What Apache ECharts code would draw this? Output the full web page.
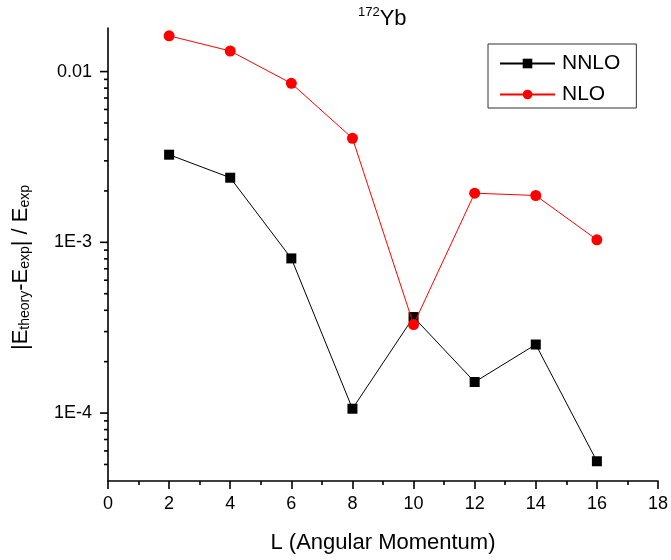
<!DOCTYPE html>
<html>
<head>
<meta charset="utf-8">
<script src="https://cdn.jsdelivr.net/npm/echarts@6/dist/echarts.min.js"></script>
<style>
html,body{margin:0;padding:0;background:#fff;}
#chart{width:671px;height:560px;}
</style>
</head>
<body>
<div id="chart"></div>
<script>
// ---- data ----
const L = [2, 4, 6, 8, 10, 12, 14, 16];
const nnlo = [3.26e-3, 2.39e-3, 8.05e-4, 1.06e-4, 3.65e-4, 1.52e-4, 2.52e-4, 5.22e-5];
const nlo = [1.62e-2, 1.32e-2, 8.53e-3, 4.07e-3, 3.30e-4, 1.94e-3, 1.88e-3, 1.035e-3];
const yMajorTicks = [1e-4, 1e-3, 1e-2];
const yMajorLabels = ['1E-4', '1E-3', '0.01'];
const yMinorTicks = [5e-5, 6e-5, 7e-5, 8e-5, 9e-5,
  2e-4, 3e-4, 4e-4, 5e-4, 6e-4, 7e-4, 8e-4, 9e-4,
  2e-3, 3e-3, 4e-3, 5e-3, 6e-3, 7e-3, 8e-3, 9e-3];

const FONT = "'Liberation Sans', Arial, sans-serif";

const tickData = yMajorTicks.map(v => [0, v, 1]).concat(yMinorTicks.map(v => [0, v, 0]));

const chart = echarts.init(document.getElementById('chart'), null, {renderer: 'canvas'});
chart.setOption({
  animation: false,
  backgroundColor: '#fff',
  title: {
    text: '{sup|172}{main|Yb}',
    left: 358,
    top: 6,
    padding: 0,
    textStyle: {
      fontWeight: 'normal',
      rich: {
        sup: {fontFamily: FONT, fontSize: 13, fontWeight: 'normal', color: '#000', verticalAlign: 'top', lineHeight: 26},
        main: {fontFamily: FONT, fontSize: 22, fontWeight: 'normal', color: '#000', lineHeight: 26}
      }
    }
  },
  legend: {
    orient: 'vertical',
    left: 488,
    top: 44,
    data: ['NNLO', 'NLO'],
    borderColor: '#333',
    borderWidth: 1,
    padding: [9, 16, 3, 11],
    itemWidth: 55,
    itemHeight: 12,
    itemGap: 10,
    textStyle: {fontFamily: FONT, fontSize: 21, color: '#000', padding: [0, 0, 0, 2]}
  },
  grid: {left: 108, right: 13, top: 28, bottom: 79, containLabel: false, outerBoundsMode: 'none'},
  xAxis: {
    type: 'value',
    min: 0, max: 18, interval: 2,
    name: 'L (Angular Momentum)',
    nameLocation: 'middle',
    nameGap: 51,
    nameTextStyle: {fontFamily: FONT, fontSize: 22, color: '#000'},
    axisLine: {lineStyle: {color: '#000', width: 1.6}},
    axisTick: {length: 8, lineStyle: {color: '#000', width: 1.6}},
    minorTick: {show: true, splitNumber: 2, length: 4, lineStyle: {color: '#000', width: 1.6}},
    axisLabel: {fontFamily: FONT, fontSize: 18, color: '#000', margin: 14},
    splitLine: {show: false}
  },
  yAxis: {
    type: 'log',
    min: 4e-5, max: 0.018,
    name: '|E{sub|theory}-E{sub|exp}| / E{sub|exp}{gap|}',
    nameLocation: 'middle',
    nameGap: 76,
    nameRotate: 90,
    nameTextStyle: {
      fontFamily: FONT, fontSize: 22, color: '#000',
      rich: {
        sub: {fontFamily: FONT, fontSize: 14, color: '#000', verticalAlign: 'bottom', padding: [22, 0, 0, 0], lineHeight: 14},
        gap: {width: 26}
      }
    },
    axisLine: {lineStyle: {color: '#000', width: 1.6}},
    axisTick: {show: false},
    axisLabel: {
      fontFamily: FONT, fontSize: 18, color: '#000', margin: 16,
      formatter: function (v) {
        const lg = Math.log10(v);
        const r = Math.round(lg);
        if (Math.abs(lg - r) > 1e-6) return '';
        const idx = yMajorTicks.findIndex(t => Math.abs(Math.log10(t) - r) < 1e-6);
        return idx >= 0 ? yMajorLabels[idx] : '';
      }
    },
    splitLine: {show: false}
  },
  series: [
    {
      name: 'NNLO',
      type: 'line',
      data: L.map((x, i) => [x, nnlo[i]]),
      symbol: 'rect',
      symbolSize: 10,
      itemStyle: {color: '#000'},
      lineStyle: {color: '#000', width: 1},
      z: 3
    },
    {
      name: 'NLO',
      type: 'line',
      data: L.map((x, i) => [x, nlo[i]]),
      symbol: 'circle',
      symbolSize: 11,
      itemStyle: {color: '#ff0000'},
      lineStyle: {color: '#ff0000', width: 1},
      z: 4
    },
    {
      name: 'yticks',
      type: 'custom',
      silent: true,
      clip: false,
      encode: {x: 0, y: 1},
      data: tickData,
      renderItem: function (params, api) {
        const p = api.coord([api.value(0), api.value(1)]);
        const len = api.value(2) ? 8 : 4;
        return {
          type: 'line',
          shape: {x1: p[0] - len, y1: p[1], x2: p[0], y2: p[1]},
          style: {stroke: '#000', lineWidth: 1.6}
        };
      }
    }
  ]
});
</script>
</body>
</html>
